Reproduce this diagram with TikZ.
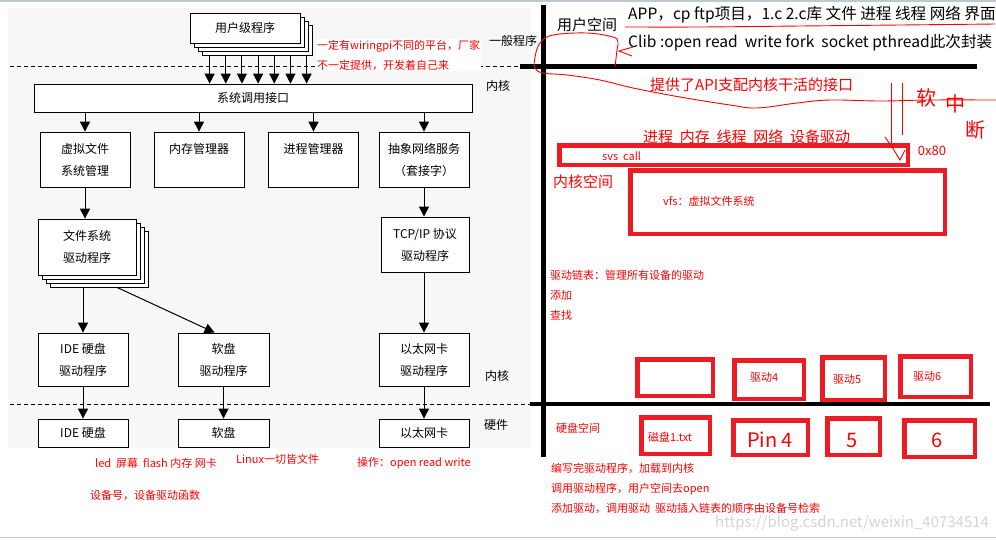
\documentclass[tikz,border=0pt]{standalone}
\usepackage{fontspec}
\setmainfont{Noto Sans CJK SC}
\usepackage{tikz}
\usetikzlibrary{arrows.meta,backgrounds}
\definecolor{paintred}{RGB}{237,28,36}
\definecolor{inkred}{RGB}{255,0,0}
\definecolor{bggray}{RGB}{247,247,247}
\definecolor{rulegray}{RGB}{190,200,212}
\definecolor{wmgray}{RGB}{212,212,212}
\newcommand{\boxcolor}{paintred}
\newcommand{\pen}{4.5pt}
\newcommand{\barwidth}{5pt}
\tikzset{
  box/.style={draw, line width=0.8pt, fill=white, inner sep=0pt, align=center, font=\fontsize{12}{22}\selectfont},
  arr/.style={line width=1pt, -{Triangle[length=10pt,width=10pt]}},
  sep/.style={dashed, dash pattern=on 4pt off 3pt, line width=0.8pt},
  hand/.style={inkred, line width=0.9pt},
  redbox/.style={draw=\boxcolor, line width=\pen, inner sep=0pt},
  note/.style={text=inkred, anchor=west, inner sep=0pt, align=left, font=\fontsize{11}{20}\selectfont},
  big/.style={anchor=west, inner sep=0pt, font=\fontsize{15}{18}\selectfont},
  tag/.style={inner sep=0pt, font=\fontsize{12}{14}\selectfont},
  scrawl/.style={text=inkred, inner sep=0pt, font=\fontsize{20}{20}\selectfont}
}

\begin{document}
\begin{tikzpicture}[x=1pt,y=-1pt]
\useasboundingbox (0,0) rectangle (996,539);
\fill[bggray] (8,8) rectangle (531,448);
\draw[rulegray, line width=2pt] (0,1) -- (996,1);
\draw[rulegray, line width=1.5pt] (0,537.5) -- (996,537.5);
%levels
\draw[sep] (10,66) -- (522,66);
\draw[sep] (10,404) -- (530,404);
%user
\node[box, minimum width=110, minimum height=30] (u3) at (257,40) {};
\node[box, minimum width=110, minimum height=30] (u2) at (253,36) {};
\node[box, minimum width=110, minimum height=30] (u1) at (249,32) {};
\node[box, minimum width=110, minimum height=30] (u) at (245,28) {用户级程序};
\node[box, minimum width=438, minimum height=28] (sys) at (253,98) {系统调用接口};
\foreach \i in {0,...,6} {
  \path ([xshift=8pt+16.17pt*\i]u3.south west) coordinate (t);
  \draw[arr] (t) -- (t |- sys.north);
}
%kernel
\node[box, minimum width=90, minimum height=55] (b1) at (85,159.5) {虚拟文件\\系统管理};
\node[box, minimum width=90, minimum height=55] (b2) at (199,159.5) {内存管理器\\~};
\node[box, minimum width=90, minimum height=55] (b3) at (313.5,159.5) {进程管理器\\~};
\node[box, minimum width=90, minimum height=55] (b4) at (424,159.5) {抽象网络服务\\（套接字）};
\draw[arr] (b1.north |- sys.south) -- (b1.north);
\draw[arr] (b2.north |- sys.south) -- (b2.north);
\draw[arr] (b3.north |- sys.south) -- (b3.north);
\draw[arr] (b4.north |- sys.south) -- (b4.north);
\node[box, minimum width=98, minimum height=56] (fs3) at (99,259) {};
\node[box, minimum width=98, minimum height=56] (fs2) at (95,255) {};
\node[box, minimum width=98, minimum height=56] (fs1) at (91,251) {};
\node[box, minimum width=98, minimum height=56] (fs) at (87,247) {文件系统\\驱动程序};
\node[box, minimum width=88, minimum height=55] (tcp) at (425,244.5) {TCP/IP 协议\\驱动程序};
\draw[arr] (b1.south) -- (b1.south |- fs.north);
\draw[arr] (b4.south) -- (b4.south |- tcp.north);
\node[box, minimum width=90, minimum height=53] (d1) at (83,359.5) {IDE 硬盘\\驱动程序};
\node[box, minimum width=91, minimum height=53] (d2) at (223.5,359.5) {软盘\\驱动程序};
\node[box, minimum width=90, minimum height=53] (d3) at (424,359.5) {以太网卡\\驱动程序};
\draw[arr] (d1.north |- fs3.south) -- (d1.north);
\draw[arr] ([xshift=18pt]fs3.south) -- ([xshift=37pt]d2.north west);
\draw[arr] (tcp.south -| d3.north) -- (d3.north);
%hardware
\node[box, minimum width=90, minimum height=28] (h1) at (83,433) {IDE 硬盘};
\node[box, minimum width=91, minimum height=28] (h2) at (223.5,433) {软盘};
\node[box, minimum width=90, minimum height=28] (h3) at (424,433) {以太网卡};
\draw[arr] (d1.south) -- (h1.north);
\draw[arr] (d2.south) -- (h2.north);
\draw[arr] (d3.south) -- (h3.north);
\node[tag] (g) at (513,41) {一般程序};
\node[tag] (k1) at (498,86) {内核};
\node[tag] (k2) at (497,376) {内核};
\node[tag] (hw) at (496,425) {硬件};
%red notes left
\node[note, fill=white, inner sep=1pt] (wp) at (316,55) {一定有wiringpi不同的平台，厂家\\不一定提供，开发着自己来};
\node[note] (led) at (95,463) {led\ \ 屏幕\ \ flash 内存 网卡};
\node[note] (lx) at (236,459) {Linux一切皆文件};
\node[note] (op) at (357,463) {操作：open read write};
\node[note] (dev) at (90,495) {设备号，设备驱动函数};
%right side
\draw[line width=\barwidth] (543,5) -- (543,457);
\draw[line width=\barwidth] (520,66) -- (977,66);
\draw[line width=4pt] (530,404) -- (990,404);
\node[big] (us) at (557,25) {用户空间};
\node[big, font=\fontsize{15.6}{18}\selectfont] (app) at (628,15) {APP，cp ftp项目，1.c 2.c库 文件 进程 线程 网络 界面};
\node[big, font=\fontsize{15.6}{18}\selectfont] (clib) at (628,43) {Clib :open read\ \ write fork\ \ socket pthread此次封装};
\node[big, text=inkred] (api) at (650,85) {提供了API支配内核干活的接口};
\node[big, text=inkred] (sub) at (643,137) {进程\ \ 内存\ \ 线程\ \ 网络\ \ 设备驱动};
\node[big, text=inkred] (ks) at (553,182) {内核空间};
\node[redbox, minimum width=348.5, minimum height=19.5] (svs) at (733.5,155) {};
\node[note] (svst) at (602,156) {svs\ \ call};
\node[redbox, minimum width=314.5, minimum height=63.5] (vfs) at (787.5,202) {};
\node[note] (vfst) at (663,201) {vfs：虚拟文件系统};
\node[note] (list) at (550,295) {驱动链表：管理所有设备的驱动\\添加\\查找};
%driver list
\node[redbox, minimum width=75.5, minimum height=36.5] (r1) at (675,377.5) {};
\node[redbox, minimum width=69.5, minimum height=38.5] (r2) at (769,379.5) {};
\node[redbox, minimum width=62.5, minimum height=42.5] (r3) at (853.5,378.5) {};
\node[redbox, minimum width=70.5, minimum height=40.5] (r4) at (935.5,376.5) {};
\node[note] (r2t) at (750,377) {驱动4};
\node[note] (r3t) at (833,379) {驱动5};
\node[note] (r4t) at (913,376) {驱动6};
%disk
\node[note] (ds) at (556,428) {硬盘空间};
\node[redbox, minimum width=68.5, minimum height=36.5] (p1) at (675.5,435.5) {};
\node[redbox, minimum width=74.5, minimum height=34.5] (p2) at (770.5,437.5) {};
\node[redbox, minimum width=52.5, minimum height=36.5] (p3) at (853.5,436.5) {};
\node[redbox, minimum width=70.5, minimum height=36.5] (p4) at (939.5,438.5) {};
\node[note] (p1t) at (648,437) {磁盘1.txt};
\node[scrawl] (p2t) at (770,440) {Pin 4};
\node[scrawl] (p3t) at (852,440) {5};
\node[scrawl] (p4t) at (937,440) {6};
\node[note] (how) at (551,488) {编写完驱动程序，加载到内核\\调用驱动程序，用户空间去open\\添加驱动，调用驱动\ \ 驱动插入链表的顺序由设备号检索};
\node[anchor=west, inner sep=0pt, text=wmgray, font=\fontsize{15}{15}\selectfont] (wm) at (715,523) {https://blog.csdn.net/weixin\_40734514};
%scribbles
\draw[hand] plot[smooth] coordinates {(625,27) (700,27) (800,26) (900,25) (995,24)};
\draw[hand] plot[smooth, tension=0.6] coordinates {(615,67) (617,50) (618,42) (613,37) (587,33) (553,35) (540,43) (535,57) (535,68) (543,73) (567,75) (600,80) (633,88) (680,97) (730,105) (757,108) (797,103) (830,100) (880,101) (930,100) (996,100)};
\draw[hand] (633,47) -- (619,51) -- (632,56);
\draw[hand] (891,83) -- (891,148);
\draw[hand] (902,83) -- (902,135);
\draw[hand] (885,137) -- (892,147) -- (900,160) -- (905,150);
\node[scrawl] (c1) at (926,98) {软};
\node[scrawl] (c2) at (955,104) {中};
\node[scrawl] (c3) at (975,130) {断};
\node[text=inkred, inner sep=0pt, font=\fontsize{13}{13}\selectfont] (int) at (932,151) {0x80};
\end{tikzpicture}
\end{document}
